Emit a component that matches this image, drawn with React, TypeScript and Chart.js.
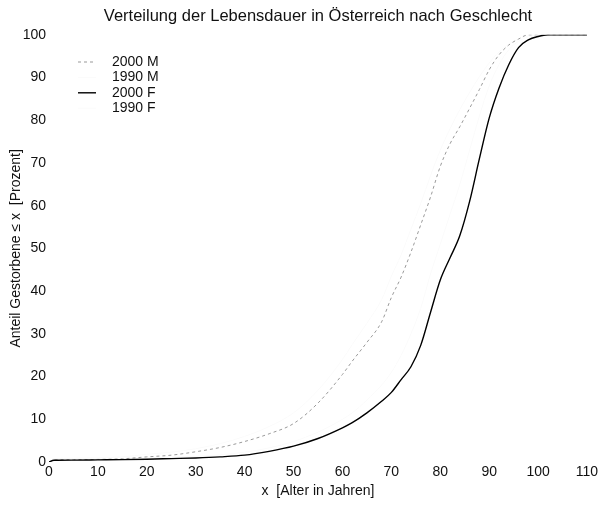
import { useEffect, useRef } from 'react';
import { Chart, registerables } from 'chart.js';

Chart.register(...registerables);

const titleText = 'Verteilung der Lebensdauer in Österreich nach Geschlecht';
const xTitle = 'x  [Alter in Jahren]';
const yTitle = 'Anteil Gestorbene ≤ x  [Prozent]';
const seriesLabels = ['2000 M', '1990 M', '2000 F', '1990 F'];

const ages = [0, 1, 5, 10, 15, 20, 25, 30, 35, 40, 45, 50, 55, 60, 62, 65, 68, 70, 72, 74, 76, 78, 80, 82, 84, 86, 88, 90, 92, 94, 96, 98, 100, 102, 105, 110];
const male2000 = [0, 0.5, 0.55, 0.6, 0.75, 1.2, 1.6, 2.4, 3.4, 4.8, 6.6, 9.0, 13.8, 20.5, 23.6, 28, 32.8, 38.5, 43.3, 49.1, 55.5, 62, 69.2, 74.5, 78.5, 82.8, 87.2, 91.8, 95.3, 97.6, 99, 100, 100, 100, 100, 100];
const male1990 = [0, 0.8, 0.9, 1.0, 1.2, 1.8, 2.3, 3.1, 4.3, 6.0, 8.3, 11.5, 16.8, 24, 27.5, 32.5, 38, 43.5, 48.5, 54.5, 60.5, 67, 73, 78, 82.5, 86.5, 90.2, 93.4, 96, 97.8, 99, 99.7, 100, 100, 100, 100];
const female2000 = [0, 0.4, 0.45, 0.5, 0.55, 0.65, 0.8, 0.95, 1.2, 1.6, 2.5, 3.7, 5.5, 8.0, 9.2, 11.5, 14.2, 16.3, 19.3, 22.3, 27.3, 35, 42.6, 47.8, 53, 61, 71, 80.5, 87.5, 93, 97, 98.8, 99.6, 100, 100, 100];
const female1990 = [0, 0.7, 0.75, 0.8, 0.9, 1.0, 1.15, 1.35, 1.7, 2.3, 3.3, 4.8, 7.0, 10, 11.5, 14.5, 18, 21, 25, 30, 36, 44, 51, 58, 65, 73, 81, 88, 93, 96.5, 98.5, 99.5, 100, 100, 100, 100];

const xTicks = [0, 10, 20, 30, 40, 50, 60, 70, 80, 90, 100, 110];
const yTicks = [0, 10, 20, 30, 40, 50, 60, 70, 80, 90, 100];

const FONT = 'Arial, "Liberation Sans", Helvetica, sans-serif';
const TEXT = '#111111';

const toPoints = (vals: number[]) => ages.map((a, i) => ({ x: a, y: vals[i] }));

const legendPlugin = {
  id: 'insideLegend',
  afterDatasetsDraw(chart: any) {
    const ctx = chart.ctx;
    ctx.save();
    ctx.font = `14px ${FONT}`;
    ctx.textBaseline = 'middle';
    ctx.textAlign = 'left';
    chart.data.datasets.forEach((ds: any, i: number) => {
      const y = 62 + i * 15.4;
      ctx.strokeStyle = ds.borderColor;
      ctx.lineWidth = ds.borderWidth;
      ctx.setLineDash(ds.borderDash || []);
      ctx.beginPath();
      ctx.moveTo(78, y);
      ctx.lineTo(96, y);
      ctx.stroke();
      ctx.setLineDash([]);
      ctx.fillStyle = TEXT;
      ctx.fillText(ds.label, 112, y);
    });
    ctx.restore();
  },
};

export default function App() {
  const ref = useRef<HTMLCanvasElement>(null);
  useEffect(() => {
    if (!ref.current) return;
    const chart = new Chart(ref.current, {
      type: 'line',
      data: {
        datasets: [
          { label: seriesLabels[0], data: toPoints(male2000), borderColor: '#9a9a9a', borderWidth: 1, borderDash: [3, 3], pointRadius: 0, cubicInterpolationMode: 'monotone', order: 1 },
          { label: seriesLabels[1], data: toPoints(male1990), borderColor: '#fbfbfb', borderWidth: 1, pointRadius: 0, cubicInterpolationMode: 'monotone', order: 3 },
          { label: seriesLabels[2], data: toPoints(female2000), borderColor: '#000000', borderWidth: 1.4, pointRadius: 0, cubicInterpolationMode: 'monotone', order: 0 },
          { label: seriesLabels[3], data: toPoints(female1990), borderColor: '#fbfbfb', borderWidth: 1, pointRadius: 0, cubicInterpolationMode: 'monotone', order: 4 },
        ],
      } as any,
      options: {
        animation: false,
        responsive: false,
        layout: { padding: { left: 0, right: 14, top: 0, bottom: 0 } },
        plugins: {
          legend: { display: false },
          tooltip: { enabled: false },
          title: {
            display: true,
            fullSize: false,
            text: titleText,
            color: TEXT,
            font: { family: FONT, size: 16.5, weight: 'normal' },
            padding: { top: 7, bottom: 8 },
          },
        },
        scales: {
          x: {
            type: 'linear',
            min: 0,
            max: 110,
            afterBuildTicks: (s: any) => { s.ticks = xTicks.map((v) => ({ value: v })); },
            ticks: { color: TEXT, font: { family: FONT, size: 14 }, padding: 2, maxRotation: 0, autoSkip: false },
            grid: { display: false, drawTicks: false },
            border: { display: false },
            title: { display: true, text: xTitle, color: TEXT, font: { family: FONT, size: 14 }, padding: { top: 0, bottom: 5 } },
            afterFit: (s: any) => { s.height = 43; },
          },
          y: {
            min: 0,
            max: 100,
            afterBuildTicks: (s: any) => { s.ticks = yTicks.map((v) => ({ value: v })); },
            ticks: { color: TEXT, font: { family: FONT, size: 14 }, padding: 3, autoSkip: false },
            grid: { display: false, drawTicks: false },
            border: { display: false },
            title: { display: true, text: yTitle, color: TEXT, font: { family: FONT, size: 14 }, padding: { top: 8, bottom: 0 } },
            afterFit: (s: any) => { s.width = 49; },
          },
        },
      } as any,
      plugins: [legendPlugin],
    });
    return () => chart.destroy();
  }, []);
  return (
    <div style={{ position: 'absolute', left: 0, top: 0, width: 601, height: 505, background: '#fff' }}>
      <canvas ref={ref} width={601} height={505} />
    </div>
  );
}
